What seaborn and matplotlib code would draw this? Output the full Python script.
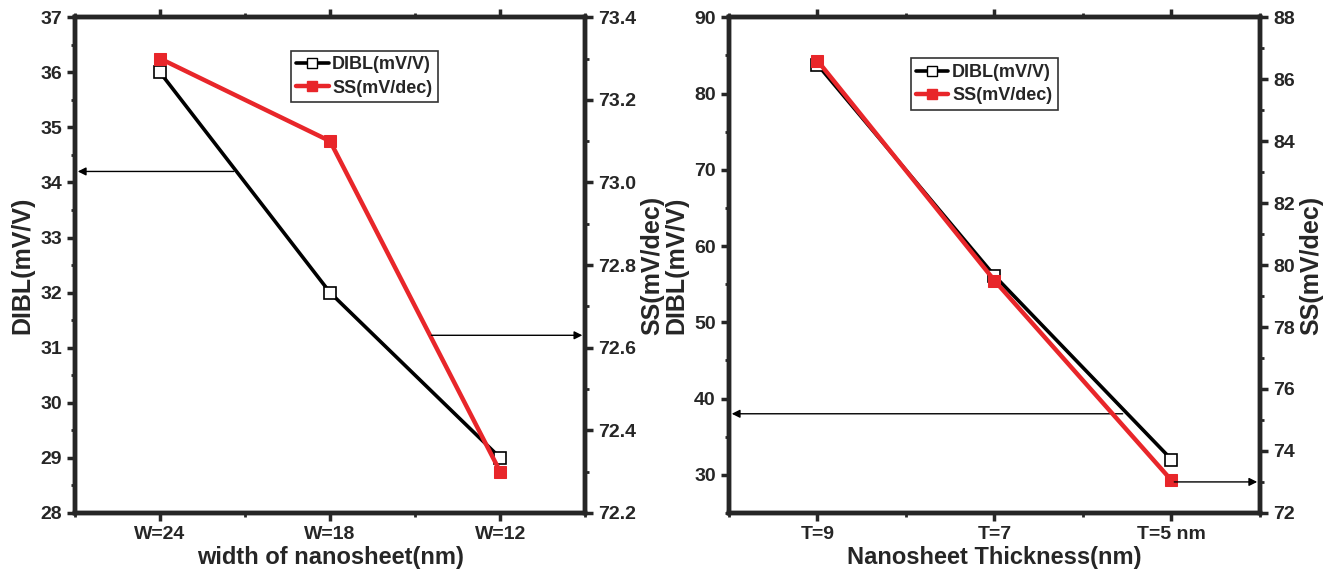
import matplotlib
matplotlib.use("Agg")
import matplotlib.pyplot as plt
import seaborn as sns
import pandas as pd
from matplotlib.ticker import MultipleLocator, FixedLocator
from matplotlib.lines import Line2D

# ---- data ----
width_labels = ["W=24", "W=18", "W=12"]
dibl_width = [36.0, 32.0, 29.0]
ss_width = [73.30, 73.10, 72.30]

thick_labels = ["T=9", "T=7", "T=5 nm"]
dibl_thick = [83.8, 56.1, 32.0]
ss_thick = [86.6, 79.5, 73.05]

sns.set_style("ticks")
plt.rcParams["font.family"] = ["Liberation Sans Narrow", "Liberation Sans", "DejaVu Sans"]
plt.rcParams["font.weight"] = "bold"

fig = plt.figure(figsize=(13.39, 5.75), dpi=100)
ax1 = fig.add_axes([0.056, 0.108, 0.381, 0.862])
ax2 = fig.add_axes([0.5444, 0.108, 0.3966, 0.862])

wide = ["Liberation Sans", "DejaVu Sans"]


def panel(ax, cats, dibl, ss, ylim_l, ylim_r, lmaj, lmin, rmaj, rmin, xlabel, leg_pos):
    df = pd.DataFrame({"cat": cats, "DIBL": dibl, "SS": ss})
    axr = ax.twinx()
    sns.lineplot(data=df, x="cat", y="DIBL", ax=ax, color="black", lw=2.6,
                 marker="s", markersize=8, markerfacecolor="white",
                 markeredgecolor="black", markeredgewidth=1.2, sort=False, zorder=3)
    sns.lineplot(data=df, x="cat", y="SS", ax=axr, color="#e8262a", lw=3.2,
                 marker="s", markersize=8, markerfacecolor="#e8262a",
                 markeredgecolor="#e8262a", sort=False, zorder=2)
    ax.set_xlim(-0.5, 2.5)
    ax.set_ylim(*ylim_l)
    axr.set_ylim(*ylim_r)
    ax.yaxis.set_major_locator(MultipleLocator(lmaj))
    ax.yaxis.set_minor_locator(MultipleLocator(lmin))
    axr.yaxis.set_major_locator(MultipleLocator(rmaj))
    axr.yaxis.set_minor_locator(MultipleLocator(rmin))
    ax.xaxis.set_minor_locator(FixedLocator([-0.5, 0.5, 1.5, 2.5]))
    for a in (ax, axr):
        for s in a.spines.values():
            s.set_linewidth(3.2)
            s.set_visible(True)
    ax.tick_params(axis="both", which="major", direction="out", length=6, width=2.5,
                   labelsize=14)
    ax.tick_params(axis="both", which="minor", direction="out", length=3, width=2)
    ax.tick_params(axis="x", which="both", top=True)
    axr.tick_params(axis="y", which="major", direction="out", length=6, width=2.5,
                    labelsize=14)
    axr.tick_params(axis="y", which="minor", direction="out", length=3, width=2)
    for lab in ax.get_xticklabels() + ax.get_yticklabels() + axr.get_yticklabels():
        lab.set_fontweight("bold")
    ax.set_xlabel(xlabel, fontsize=17, fontweight="bold", labelpad=2)
    ax.set_ylabel("DIBL(mV/V)", fontsize=18, fontweight="bold", family=wide, labelpad=4)
    axr.set_ylabel("SS(mV/dec)", fontsize=18, fontweight="bold", family=wide, labelpad=3)
    handles = [
        Line2D([], [], color="black", lw=2.6, marker="s", markersize=7,
               markerfacecolor="white", markeredgecolor="black"),
        Line2D([], [], color="#e8262a", lw=3.2, marker="s", markersize=7,
               markerfacecolor="#e8262a", markeredgecolor="#e8262a"),
    ]
    leg = axr.legend(handles, ["DIBL(mV/V)", "SS(mV/dec)"], loc="upper left",
                     bbox_to_anchor=leg_pos, frameon=True, fancybox=False,
                     edgecolor="black", fontsize=13, handlelength=1.8,
                     handletextpad=0.2, borderpad=0.3, labelspacing=0.35)
    leg.get_frame().set_linewidth(1.2)
    for t in leg.get_texts():
        t.set_fontweight("bold")
    return axr


ax1r = panel(ax1, width_labels, dibl_width, ss_width, (28, 37), (72.2, 73.4),
             1, 0.5, 0.2, 0.1, "width of nanosheet(nm)", (0.405, 0.95))
ax2r = panel(ax2, thick_labels, dibl_thick, ss_thick, (25, 90), (72, 88),
             10, 5, 2, 1, "Nanosheet Thickness(nm)", (0.325, 0.935))

arrow = dict(arrowstyle="-|>", color="black", lw=1.0, mutation_scale=12)
ax1.annotate("", xy=(-0.5, 34.2), xytext=(0.45, 34.2), arrowprops=arrow)
ax1r.annotate("", xy=(2.5, 72.63), xytext=(1.58, 72.63), arrowprops=arrow)
ax2.annotate("", xy=(-0.5, 38.0), xytext=(1.74, 38.0), arrowprops=arrow)
ax2r.annotate("", xy=(2.5, 73.0), xytext=(2.0, 73.0), arrowprops=arrow)

fig.savefig("out.png", dpi=100)
